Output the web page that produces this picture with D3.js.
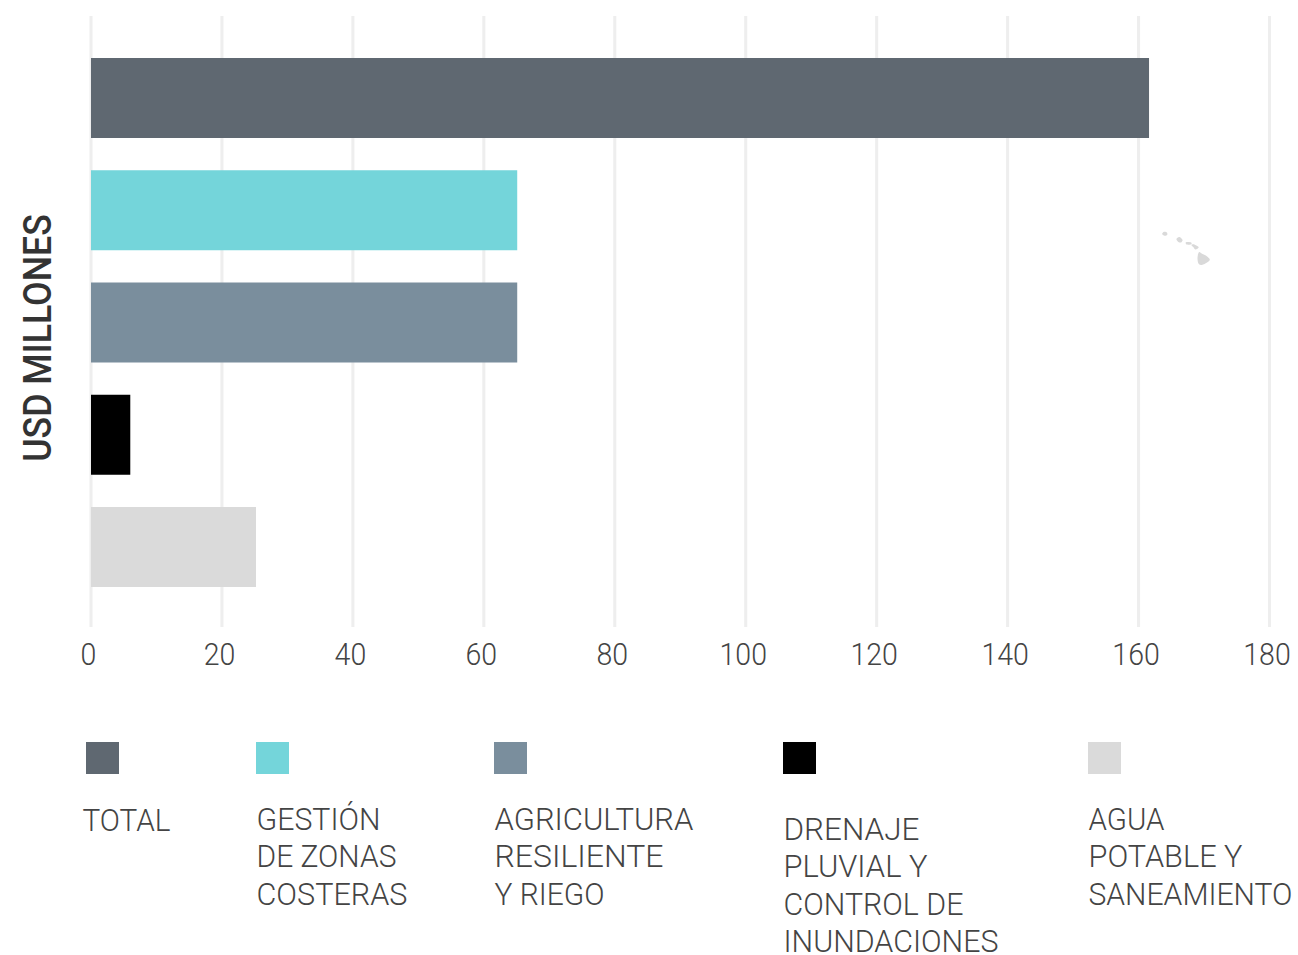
<!DOCTYPE html>
<html><head><meta charset="utf-8">
<script src="https://cdn.jsdelivr.net/npm/d3@7/dist/d3.min.js"></script>
<style>html,body{margin:0;background:#fff}svg{display:block}text{font-family:Roboto,sans-serif;font-weight:300;fill:#444}</style>
</head><body><svg id="c" width="1298" height="955"></svg>
<script>
const categories=["TOTAL","GESTIÓN DE ZONAS COSTERAS","AGRICULTURA RESILIENTE Y RIEGO","DRENAJE PLUVIAL Y CONTROL DE INUNDACIONES","AGUA POTABLE Y SANEAMIENTO"];
const values=[161.6,65.1,65.1,6,25.2];
const colors=["#5f6871","#74d5da","#7a8e9d","#000000","#dadada"];
const tickValues=[0,20,40,60,80,100,120,140,160,180];
const legendLines=[["TOTAL"],["GESTIÓN","DE ZONAS","COSTERAS"],["AGRICULTURA","RESILIENTE","Y RIEGO"],["DRENAJE","PLUVIAL Y","CONTROL DE","INUNDACIONES"],["AGUA","POTABLE Y","SANEAMIENTO"]];
const legendWidths=[[88],[124,140,151],[199,169,110],[136,144,180,215],[76,154,204]];
const islands=[
 [[-159.8,22.05],[-159.6,22.26],[-159.3,22.2],[-159.27,21.95],[-159.55,21.87]],
 [[-158.3,21.55],[-158.0,21.75],[-157.65,21.45],[-157.8,21.22],[-158.1,21.27]],
 [[-157.32,21.22],[-156.72,21.2],[-156.72,21.05],[-157.27,21.05]],
 [[-156.72,20.98],[-156.55,21.05],[-156.25,20.95],[-155.95,20.75],[-156.3,20.52],[-156.5,20.75]],
 [[-155.9,20.28],[-155.6,20.12],[-155.1,19.88],[-154.78,19.52],[-155.6,19.02],[-155.92,19.08],[-156.08,19.7]]
];
const svg=d3.select("#c");
const x=d3.scaleLinear().domain([0,180]).range([91,1269.5]);
const y=d3.scaleBand().domain(categories).range([58,587]).paddingInner(0.2873).paddingOuter(0);
const lon=d3.scaleLinear().domain([-159.5,-155.5]).range([1165,1203]);
const lat=d3.scaleLinear().domain([22.05,19.6]).range([234,259]);
svg.append("g").selectAll("line").data(tickValues).join("line")
 .attr("x1",d=>x(d)).attr("x2",d=>x(d)).attr("y1",16).attr("y2",627).attr("stroke","#eeeeee").attr("stroke-width",3);
svg.append("g").selectAll("rect").data(categories).join("rect")
 .attr("x",x(0)).attr("y",d=>y(d)).attr("height",y.bandwidth())
 .attr("width",(d,i)=>x(values[i])-x(0)).attr("fill",(d,i)=>colors[i]);
svg.append("g").selectAll("path").data(islands).join("path")
 .attr("d",d3.line().x(d=>lon(d[0])).y(d=>lat(d[1])).curve(d3.curveCatmullRomClosed)).attr("fill","#d9d9d9");
function stext(g,s,px,py,size,sx){
 return g.append("text").text(s).attr("transform",`translate(${px},${py}) scale(${sx},1)`).style("font-size",size+"px");
}
const axisG=svg.append("g");
tickValues.forEach(t=>stext(axisG,t,x(t)-2.5,665,31,0.92).attr("text-anchor","middle"));
svg.append("text").text("USD MILLONES").attr("transform","translate(51,338) rotate(-90) scale(0.94,1)")
 .attr("text-anchor","middle").style("font-size","38px").style("font-weight",500).style("fill","#333");
const legendX=[86,256,494,783,1088], textX=[82.5,256.5,494.5,783.5,1088.5], firstBase=[831,830,830,840,830];
const lg=svg.append("g");
categories.forEach((c,i)=>{
 lg.append("rect").attr("x",legendX[i]).attr("y",742).attr("width",33).attr("height",32).attr("fill",colors[i]);
 legendLines[i].forEach((l,j)=>{
  const t=stext(lg,l,textX[i],firstBase[i]+j*37.3,31,1);
  const sx=legendWidths[i][j]/t.node().getComputedTextLength();
  t.attr("transform",`translate(${textX[i]},${firstBase[i]+j*37.3}) scale(${sx},1)`);
 });
});
</script></body></html>
